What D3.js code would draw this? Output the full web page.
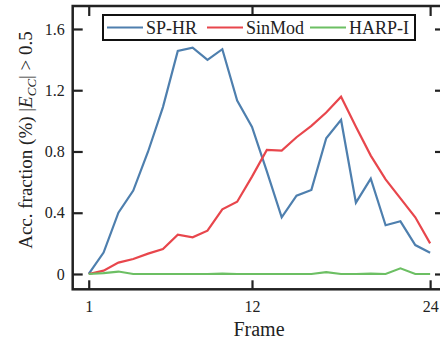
<!DOCTYPE html>
<html>
<head>
<meta charset="utf-8">
<script src="https://cdn.jsdelivr.net/npm/d3@7"></script>
<style>
  html, body { margin: 0; padding: 0; background: #fff; }
  svg { display: block; }
  text { font-family: "Liberation Serif", "Times New Roman", serif; fill: #222; }
</style>
</head>
<body>
<svg id="chart" width="440" height="343"></svg>
<script>
const frames = d3.range(1, 25);
const seriesNames = ["SP-HR", "SinMod", "HARP-I"];
const spHR = [0, 0.14, 0.40, 0.545, 0.80, 1.09, 1.457, 1.478, 1.398, 1.468, 1.132, 0.96, 0.67, 0.37, 0.511, 0.549, 0.886, 1.006, 0.466, 0.623, 0.318, 0.344, 0.189, 0.139];
const sinMod = [0, 0.022, 0.074, 0.098, 0.133, 0.163, 0.257, 0.240, 0.283, 0.422, 0.472, 0.636, 0.810, 0.806, 0.893, 0.967, 1.054, 1.158, 0.962, 0.773, 0.618, 0.494, 0.370, 0.200];
const harpI = [0, 0.006, 0.016, 0, 0, 0, 0, 0, 0, 0.003, 0, 0, 0, 0, 0, 0, 0.012, 0, 0, 0.002, 0, 0.037, 0, 0];
const colors = ["#4e7fae", "#e8464c", "#6cbf63"];
const xTicks = [1, 12, 24];
const yTicks = [0, 0.4, 0.8, 1.2, 1.6];

const svg = d3.select("#chart");
const L = 72.7, R = 442, T = 6, B = 289.3;
const x = d3.scaleLinear().domain([-0.08, 24.8]).range([L, R]);
const y = d3.scaleLinear().domain([-0.1, 1.75]).range([B, T]);

const data = [spHR, sinMod, harpI];
const line = d3.line().x((d, i) => x(frames[i])).y(d => y(d));

const plot = svg.append("g");
data.forEach((s, k) => {
  plot.append("path").datum(s)
    .attr("fill", "none").attr("stroke", colors[k])
    .attr("stroke-width", 2.2).attr("stroke-linejoin", "miter")
    .attr("d", line);
});
// reorder: blue on top of red? draw order as in matplotlib: SP-HR, SinMod, HARP-I

const fmtY = d => d === 0 ? "0" : d3.format(".1f")(d);
const axColor = "#222";

// Left axis
const gL = svg.append("g").attr("transform", `translate(${L},0)`)
  .call(d3.axisLeft(y).tickValues(yTicks).tickFormat(fmtY).tickSizeInner(-10).tickSizeOuter(0).tickPadding(8));
// Bottom axis
const gB = svg.append("g").attr("transform", `translate(0,${B})`)
  .call(d3.axisBottom(x).tickValues(xTicks).tickFormat(d3.format("d")).tickSizeInner(-9).tickSizeOuter(0).tickPadding(11));
// Top axis (ticks only)
const gT = svg.append("g").attr("transform", `translate(0,${T})`)
  .call(d3.axisTop(x).tickValues(xTicks).tickFormat("").tickSizeInner(-10).tickSizeOuter(0));
// Right axis (ticks only)
const gR = svg.append("g").attr("transform", `translate(${R},0)`)
  .call(d3.axisRight(y).tickValues(yTicks).tickFormat("").tickSizeInner(-7).tickSizeOuter(0));

[gL, gB, gT, gR].forEach(g => {
  g.select(".domain").remove();
  g.selectAll(".tick line").attr("stroke", axColor).attr("stroke-width", 2.2);
  g.selectAll(".tick text").attr("font-family", "Liberation Serif").attr("font-size", 16).attr("fill", "#222");
});

// Frame (spines)
svg.append("rect").attr("x", L).attr("y", T).attr("width", R - L).attr("height", B - T)
  .attr("fill", "none").attr("stroke", axColor).attr("stroke-width", 2.5);

// Axis labels
svg.append("text").attr("x", (88 + 430) / 2 + 0).attr("y", 336)
  .attr("text-anchor", "middle").attr("font-size", 20).text("Frame");

const yl = svg.append("text").attr("transform", "translate(32,140) rotate(-90)")
  .attr("text-anchor", "middle").attr("font-size", 19);
yl.append("tspan").text("Acc. fraction (%) |");
yl.append("tspan").attr("font-style", "italic").text("E");
yl.append("tspan").attr("font-style", "italic").attr("font-size", 13).attr("dy", 4).text("CC");
yl.append("tspan").attr("dy", -4).text("| > 0.5");

// Legend
const lg = svg.append("g");
lg.append("rect").attr("x", 103).attr("y", 15).attr("width", 312).attr("height", 25)
  .attr("fill", "#fff").attr("stroke", "#111").attr("stroke-width", 2);
const legX = [107, 207, 310];
seriesNames.forEach((n, k) => {
  lg.append("line").attr("x1", legX[k]).attr("x2", legX[k] + 36).attr("y1", 27.5).attr("y2", 27.5)
    .attr("stroke", colors[k]).attr("stroke-width", 2.2);
  lg.append("text").attr("x", legX[k] + 39).attr("y", 33.5).attr("font-size", 18).text(n);
});
</script>
</body>
</html>
